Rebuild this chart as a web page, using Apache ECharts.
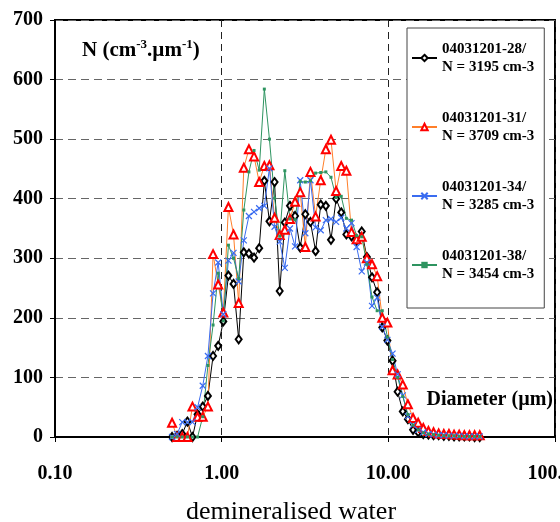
<!DOCTYPE html>
<html>
<head>
<meta charset="utf-8">
<script src="https://cdn.jsdelivr.net/npm/echarts@6/dist/echarts.min.js"></script>
<style>
  html, body { margin: 0; padding: 0; background: #fff; }
  #chart { width: 560px; height: 522px; }
</style>
</head>
<body>
<div id="chart"></div>
<script>
// particle diameter bins (µm)
const diameters = [0.504, 0.540, 0.580, 0.623, 0.668, 0.717, 0.770, 0.827, 0.888, 0.953,
  1.023, 1.098, 1.178, 1.265, 1.358, 1.457, 1.564, 1.679, 1.803, 1.935,
  2.077, 2.229, 2.393, 2.569, 2.757, 2.960, 3.177, 3.410, 3.661, 3.930,
  4.218, 4.528, 4.861, 5.217, 5.600, 6.012, 6.453, 6.927, 7.436, 7.982,
  8.568, 9.196, 9.870, 10.60, 11.37, 12.21, 13.10, 14.07, 15.10, 16.21,
  17.40, 18.67, 20.04, 21.52, 23.10, 24.79, 26.61, 28.57, 30.67, 32.92, 35.34]

// N (cm-3.µm-1) for each sample
const n28 = [0, 2, 5, 26, 0, 38, 51, 69, 136, 153,
  194, 271, 257, 164, 310, 308, 301, 317, 430, 362,
  428, 245, 360, 388, 371, 318, 374, 361, 312, 390,
  388, 331, 400, 377, 340, 337, 330, 345, 302, 268,
  243, 184, 162, 128, 76, 43, 30, 12, 8, 5,
  4, 3, 3, 2, 2, 1, 1, 1, 1, 0, 0]
const n31 = [24, 0, 0, 0, 51, 34, 34, 51, 307, 256,
  209, 386, 340, 225, 452, 483, 471, 428, 455, 456,
  368, 339, 348, 366, 395, 411, 319, 445, 370, 431,
  483, 499, 413, 455, 447, 344, 332, 336, 300, 290,
  270, 200, 192, 112, 105, 88, 55, 32, 24, 15,
  10, 8, 6, 5, 5, 4, 4, 3, 3, 3, 3]
const n34 = [0, 5, 25, 25, 25, 50, 86, 136, 241, 293,
  206, 296, 309, 261, 330, 371, 378, 384, 388, 451,
  353, 328, 284, 350, 320, 431, 342, 431, 352, 347,
  364, 366, 361, 368, 350, 359, 319, 278, 293, 220,
  234, 185, 163, 140, 105, 70, 35, 20, 12, 8,
  5, 4, 3, 3, 2, 2, 2, 1, 1, 1, 1]
const n38 = [0, 0, 0, 0, 0, 0, 34, 120, 188, 275,
  195, 322, 300, 266, 381, 445, 481, 448, 584, 500,
  401, 337, 447, 366, 365, 429, 428, 430, 443, 444,
  445, 436, 402, 404, 367, 364, 338, 336, 290, 235,
  212, 212, 168, 130, 100, 68, 38, 20, 12, 7,
  5, 4, 3, 2, 2, 2, 1, 1, 1, 1, 1]

const sampleNames = ['04031201-28/', '04031201-31/', '04031201-34/', '04031201-38/']
const sampleTotals = ['N = 3195 cm-3', 'N = 3709 cm-3', 'N = 3285 cm-3', 'N = 3454 cm-3']
const xTicks = [0.1, 1, 10, 100]

const serif = 'Liberation Serif'
const toPairs = vals => vals.map((v, i) => [diameters[i], v])

const chart = echarts.init(document.getElementById('chart'))
chart.setOption({
  animation: false,
  backgroundColor: '#fff',
  grid: {
    left: 55, top: 20, right: 5, bottom: 85,
    outerBoundsMode: 'none',
    show: true, borderColor: '#000', borderWidth: 2
  },
  legend: {
    orient: 'vertical',
    left: 407,
    top: 28,
    padding: [3, 10, 16, 4],
    backgroundColor: '#fff',
    borderColor: '#444',
    borderWidth: 1,
    itemWidth: 25,
    itemHeight: 8,
    itemGap: 15,
    formatter: name => name + '\n' + sampleTotals[sampleNames.indexOf(name)],
    textStyle: {
      fontFamily: serif, fontWeight: 'bold', fontSize: 15, color: '#000',
      lineHeight: 18, padding: [18, 0, 0, 0]
    }
  },
  xAxis: {
    type: 'log',
    logBase: 10,
    min: xTicks[0],
    max: xTicks[xTicks.length - 1],
    name: 'demineralised water',
    nameLocation: 'middle',
    nameGap: 62,
    nameTextStyle: { fontFamily: serif, fontSize: 26, color: '#000', padding: [0, 28, 0, 0] },
    axisLine: { lineStyle: { color: '#000', width: 2 } },
    axisTick: { show: true, length: 5, lineStyle: { color: '#000', width: 1 } },
    axisLabel: {
      margin: 27,
      fontFamily: serif, fontWeight: 'bold', fontSize: 20, color: '#000',
      formatter: v => v.toFixed(2)
    },
    splitLine: { show: true, lineStyle: { color: '#222', type: [7, 5], width: 1 } }
  },
  yAxis: {
    type: 'value',
    min: 0,
    max: 700,
    interval: 100,
    axisLine: { show: true, lineStyle: { color: '#000', width: 2 } },
    axisTick: { show: true, length: 5, lineStyle: { color: '#000', width: 1 } },
    axisLabel: { margin: 12, fontFamily: serif, fontWeight: 'bold', fontSize: 20, color: '#000' },
    splitLine: { show: true, lineStyle: { color: '#666', type: [8, 5], width: 1 } }
  },
  series: [
    {
      name: sampleNames[0], type: 'line', data: toPairs(n28),
      symbol: 'emptyDiamond', symbolSize: [6, 8],
      lineStyle: { color: '#000', width: 1 },
      itemStyle: { color: '#000', borderWidth: 1 }
    },
    {
      name: sampleNames[1], type: 'line', data: toPairs(n31),
      symbol: 'emptyTriangle', symbolSize: 8,
      lineStyle: { color: '#ff7f2a', width: 1 },
      itemStyle: { color: '#ff0000', borderWidth: 1 }
    },
    {
      name: sampleNames[2], type: 'line', data: toPairs(n34),
      symbol: 'path://M0,0L8,8M8,0L0,8', symbolSize: 6,
      lineStyle: { color: '#3a6cf0', width: 1 },
      itemStyle: { color: '#3a6cf0', borderColor: '#3a6cf0', borderWidth: 1.2 }
    },
    {
      name: sampleNames[3], type: 'line', data: toPairs(n38),
      symbol: 'rect', symbolSize: 3,
      lineStyle: { color: '#2e9460', width: 1 },
      itemStyle: { color: '#2e9460' }
    }
  ],
  graphic: [
    {
      type: 'text', left: 82, top: 38,
      style: {
        text: '{b|N (cm}{s|-3}{b|.µm}{s|-1}{b|)}',
        rich: {
          b: { fontFamily: serif, fontWeight: 'bold', fontSize: 21, fill: '#000' },
          s: { fontFamily: serif, fontWeight: 'bold', fontSize: 13, fill: '#000', padding: [0, 0, 12, 0] }
        }
      }
    },
    {
      type: 'text', right: 7, top: 390,
      style: { text: 'Diameter (µm)', fontFamily: serif, fontWeight: 'bold', fontSize: 20, fill: '#000' }
    }
  ]
})
</script>
</body>
</html>
